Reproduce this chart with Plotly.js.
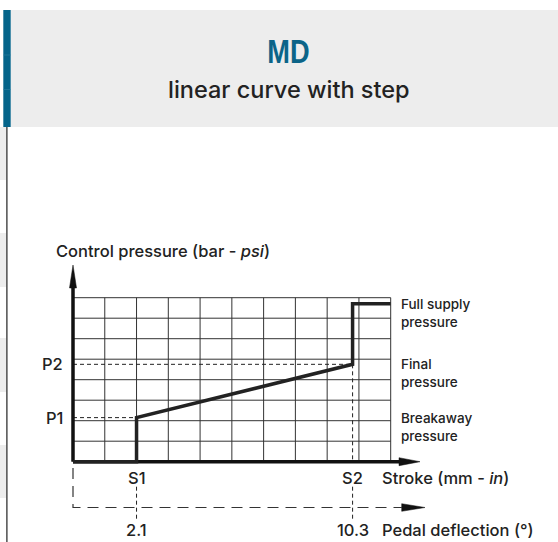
<!DOCTYPE html>
<html><head><meta charset="utf-8">
<script src="https://cdn.plot.ly/plotly-3.0.1.min.js"></script>
<style>html,body{margin:0;padding:0;background:#fff;overflow:hidden}#chart{width:558px;height:542px}</style>
</head><body><div id="chart"></div>
<script>
// ---- data (grid units: one column / one row of the diagram grid) ----
const gridColumns = [0,1,2,3,4,5,6,7,8,9,10];
const gridRows = [0,1,2,3,4,5,6,7,8];
const strokeValues = [0, 2, 2, 8.8, 8.8, 10];
const pressureValues = [0, 0, 2.15, 4.75, 7.7, 7.7];
const strokeMarks = [2, 8.8];
const strokeMarkLabels = ['S1', 'S2'];
const pedalLabels = ['2.1', '10.3'];
const pressureMarks = [2.15, 4.75];
const pressureMarkLabels = ['P1', 'P2'];
const levelValues = [7.7, 4.75, 2.15];
const levelLabels = ['Full supply<br>pressure', 'Final<br>pressure', 'Breakaway<br>pressure'];
const titleText = 'MD';
const subtitleText = 'linear curve with step';
const yTitle = 'Control pressure (bar - <i>psi</i>)';
const xTitle = 'Stroke (mm - <i>in</i>)';
const pedalTitle = 'Pedal deflection (°)';

// ---- layout calibration ----
const W = 558, H = 542;
const ox = 73, colW = 31.77, oy = 461.7, rowH = 20.5;
const xr = [-ox / colW, (W - ox) / colW];
const yr = [(oy - H) / rowH, oy / rowH];
const px = v => v / colW;   // pixel length -> x units
const py = v => v / rowH;   // pixel length -> y units
const xMax = gridColumns[gridColumns.length - 1];
const yMax = gridRows[gridRows.length - 1];
const pedalY = -py(45.8);
const belowTop = -py(25), belowBot = -py(58.3);
const labelY = -py(16.3), pedalLabelY = -py(68.3);
const FONT = 'Inter, Liberation Sans, Arial, sans-serif';
const INK = '#222';
const LBL = 16.5;

// grid
const gx = [], gy = [];
gridColumns.forEach(c => { gx.push(c, c, null); gy.push(0, yMax, null); });
gridRows.forEach(r => { gx.push(0, xMax, null); gy.push(r, r, null); });

const traces = [];
traces.push({x: gx, y: gy, mode: 'lines', line: {color: '#333', width: 1}, hoverinfo: 'skip'});

// dashed guides for P1/P2
pressureMarks.forEach((p, i) => {
  traces.push({x: [0, strokeMarks[i]], y: [p, p], mode: 'lines',
    line: {color: INK, width: 1, dash: '4px,3px'}, hoverinfo: 'skip'});
});
// S2 dashed inside grid
traces.push({x: [strokeMarks[1], strokeMarks[1]], y: [pressureMarks[1], 0], mode: 'lines',
  line: {color: INK, width: 1, dash: '4px,3px'}, hoverinfo: 'skip'});
// S dashed below
strokeMarks.forEach(s => {
  traces.push({x: [s, s], y: [belowTop, belowBot], mode: 'lines',
    line: {color: INK, width: 1, dash: '4px,3px'}, hoverinfo: 'skip'});
});
// pedal dashed L
const pedalArrowBase = px(401.7 - ox), pedalArrowTip = px(425 - ox);
traces.push({x: [0, 0, pedalArrowBase], y: [-py(6.3), pedalY, pedalY], mode: 'lines',
  line: {color: '#333', width: 1.2, dash: '11px,7px'}, hoverinfo: 'skip'});

// thick axes
const xArrowBase = px(399 - ox), xArrowTip = px(420 - ox);
const yArrowBase = py(oy - 288), yArrowTip = py(oy - 265);
traces.push({x: [0, xArrowBase], y: [0, 0], mode: 'lines', line: {color: '#111', width: 3.5}, hoverinfo: 'skip'});
traces.push({x: [0, 0], y: [0, yArrowBase], mode: 'lines', line: {color: '#111', width: 3.5}, hoverinfo: 'skip'});
// arrowheads
const tri = (xs, ys) => ({x: xs, y: ys, mode: 'lines', fill: 'toself', fillcolor: '#111',
  line: {color: '#111', width: 0.5}, hoverinfo: 'skip'});
traces.push(tri([xArrowBase, xArrowTip, xArrowBase, xArrowBase], [py(4), 0, -py(4), py(4)]));
traces.push(tri([-px(3.5), 0, px(3.5), -px(3.5)], [yArrowBase, yArrowTip, yArrowBase, yArrowBase]));
traces.push(tri([pedalArrowBase, pedalArrowTip, pedalArrowBase, pedalArrowBase],
  [pedalY + py(3.8), pedalY, pedalY - py(3.8), pedalY + py(3.8)]));

// curve
traces.push({x: strokeValues, y: pressureValues, mode: 'lines',
  line: {color: INK, width: 3.5}, hoverinfo: 'skip'});

// ---- annotations ----
const ann = [];
const txt = (x, y, text, size, xa, ya, extra) => Object.assign({x, y, xref: 'x', yref: 'y', text,
  showarrow: false, xanchor: xa, yanchor: ya, font: {family: FONT, size, color: INK, weight: 500}}, extra || {});
strokeMarks.forEach((s, i) => {
  ann.push(txt(s, labelY, strokeMarkLabels[i], LBL, 'center', 'middle'));
  ann.push(txt(s, pedalLabelY, pedalLabels[i], LBL, 'center', 'middle'));
});
ann.push(txt(px(379.7 - ox), labelY, xTitle, LBL, 'left', 'middle'));
ann.push(txt(px(379.7 - ox), pedalLabelY, pedalTitle, LBL, 'left', 'middle'));
pressureMarks.forEach((p, i) => ann.push(txt(-px(8), p, pressureMarkLabels[i], LBL, 'right', 'middle')));
ann.push(txt(-px(19), py(oy - 251), yTitle, LBL, 'left', 'middle'));
levelValues.forEach((v, i) => ann.push(txt(px(399 - ox), v, levelLabels[i], 13.5, 'left', 'middle', {yshift: -9, align: 'left'})));
// header texts
ann.push({x: 289 / W, y: 1 - 50.5 / H, xref: 'paper', yref: 'paper', text: titleText, showarrow: false,
  xanchor: 'center', yanchor: 'middle',
  font: {family: 'Liberation Sans, Arial, sans-serif', size: 34, color: '#0b6488', weight: 'bold'}});
ann.push({x: 288.5 / W, y: 1 - 90 / H, xref: 'paper', yref: 'paper', text: subtitleText, showarrow: false,
  xanchor: 'center', yanchor: 'middle', font: {family: FONT, size: 23.5, color: INK, weight: 500}});

// ---- header / decoration shapes (paper) ----
const rect = (x0, y0, x1, y1, color) => ({type: 'rect', xref: 'paper', yref: 'paper',
  x0: x0 / W, x1: x1 / W, y0: 1 - y1 / H, y1: 1 - y0 / H, fillcolor: color, line: {width: 0}, layer: 'below'});
const shapes = [
  rect(10.7, 10, W, 127, '#ededed'),
  rect(3.3, 10, 10.7, 127, '#04648a'),
  {type: 'line', xref: 'paper', yref: 'paper', x0: 3.3 / W, x1: 10.7 / W, y0: 1 - 55 / H, y1: 1 - 55 / H, line: {color: '#2f7fa0', width: 0.6}},
  {type: 'line', xref: 'paper', yref: 'paper', x0: 3.3 / W, x1: 10.7 / W, y0: 1 - 89.5 / H, y1: 1 - 89.5 / H, line: {color: '#2f7fa0', width: 0.6}},
  rect(0, 127, 6.3, 180, '#ededed'),
  rect(0, 233, 6.3, 287, '#ededed'),
  rect(0, 338, 6.3, 392, '#ededed'),
  rect(0, 445, 6.3, 498, '#ededed'),
  {type: 'line', xref: 'paper', yref: 'paper', x0: 6.9 / W, x1: 6.9 / W, y0: 0, y1: 1 - 127 / H, line: {color: '#222', width: 1.2}}
];

const layout = {
  width: W, height: H, margin: {l: 0, r: 0, t: 0, b: 0},
  paper_bgcolor: '#fff', plot_bgcolor: 'rgba(0,0,0,0)', showlegend: false,
  xaxis: {range: xr, visible: false, fixedrange: true},
  yaxis: {range: yr, visible: false, fixedrange: true},
  annotations: ann, shapes: shapes, font: {family: FONT}
};
Plotly.newPlot('chart', traces, layout, {staticPlot: true, displayModeBar: false}).then(gd => {
  // condense the "MD" title horizontally about its centre
  gd.querySelectorAll('.annotation-text').forEach(el => {
    if (el.textContent === titleText) {
      const b = el.getBBox();
      const s = 0.8, cx = b.x + b.width / 2;
      el.setAttribute('transform', `translate(${cx * (1 - s)},0) scale(${s},1)`);
    }
  });
});
</script></body></html>
